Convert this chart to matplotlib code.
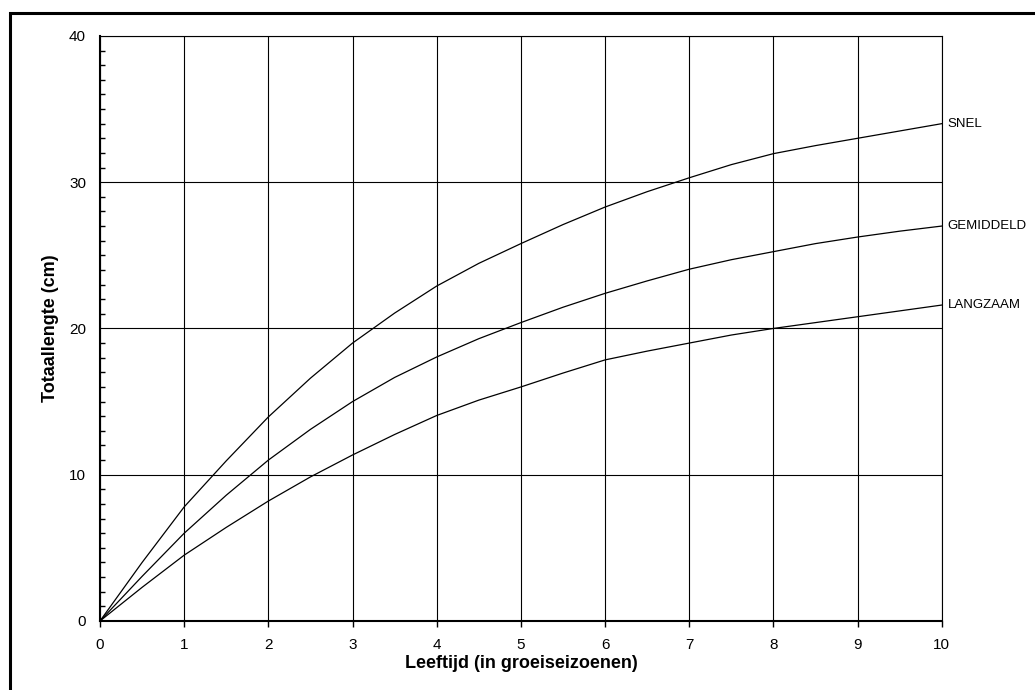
import matplotlib.pyplot as plt
from matplotlib.patches import Rectangle
from matplotlib.ticker import MultipleLocator

plt.rcParams['font.family'] = ['Liberation Sans', 'DejaVu Sans']

# age in growing seasons (read every half season)
leeftijd = [0, 0.5, 1, 1.5, 2, 2.5, 3, 3.5, 4, 4.5, 5, 5.5, 6, 6.5, 7, 7.5,
            8, 8.5, 9, 9.5, 10]
# total length (cm) per growth rate
snel = [0, 4.0, 7.8, 10.95, 13.95, 16.6, 19.0, 21.05, 22.9, 24.45, 25.8,
        27.1, 28.3, 29.35, 30.3, 31.2, 31.95, 32.5, 33.0, 33.5, 34.0]
gemiddeld = [0, 3.05, 6.0, 8.6, 11.0, 13.1, 15.0, 16.65, 18.05, 19.3, 20.4,
             21.45, 22.4, 23.25, 24.05, 24.7, 25.25, 25.8, 26.25, 26.65, 27.0]
langzaam = [0, 2.3, 4.5, 6.4, 8.2, 9.85, 11.35, 12.75, 14.05, 15.1, 16.0,
            16.95, 17.85, 18.45, 19.0, 19.55, 20.0, 20.4, 20.8, 21.2, 21.6]
namen = ['SNEL', 'GEMIDDELD', 'LANGZAAM']

fig = plt.figure(figsize=(10.35, 6.9), dpi=100)
ax = fig.add_axes([0.0966, 0.1, 0.8134, 0.848])

for serie, naam in zip([snel, gemiddeld, langzaam], namen):
    ax.plot(leeftijd, serie, color='black', linewidth=0.9, clip_on=False)
    ax.text(leeftijd[-1] + 0.07, serie[-1], naam, fontsize=9.5,
            va='center', ha='left')

ax.set_xlim(0, 10)
ax.set_ylim(0, 40)
ax.set_xticks(range(0, 11))
ax.set_yticks([0, 10, 20, 30, 40])
ax.yaxis.set_minor_locator(MultipleLocator(1))
ax.grid(True, which='major', color='black', linewidth=0.8)
ax.set_axisbelow(True)

ax.tick_params(axis='x', which='major', direction='out', length=4.5,
               width=1, pad=8, labelsize=11)
ax.tick_params(axis='y', which='major', length=0, pad=10, labelsize=11)
ax.tick_params(axis='y', which='minor', direction='in', length=3.5, width=1)

for s in ['left', 'bottom']:
    ax.spines[s].set_linewidth(1.5)
for s in ['top', 'right']:
    ax.spines[s].set_linewidth(0.8)

ax.set_xlabel('Leeftijd (in groeiseizoenen)', fontsize=13, fontweight='bold',
              labelpad=2)
ax.set_ylabel('Totaallengte (cm)', fontsize=13, fontweight='bold', labelpad=7)

# outer frame (right and bottom run off the image)
frame = Rectangle((10 / 1035, -0.1), 1.2, 1.1 - 13 / 690,
                  transform=fig.transFigure, fill=False, edgecolor='black',
                  linewidth=2.2, clip_on=False)
fig.patches.append(frame)

fig.savefig('out.png', dpi=100)
